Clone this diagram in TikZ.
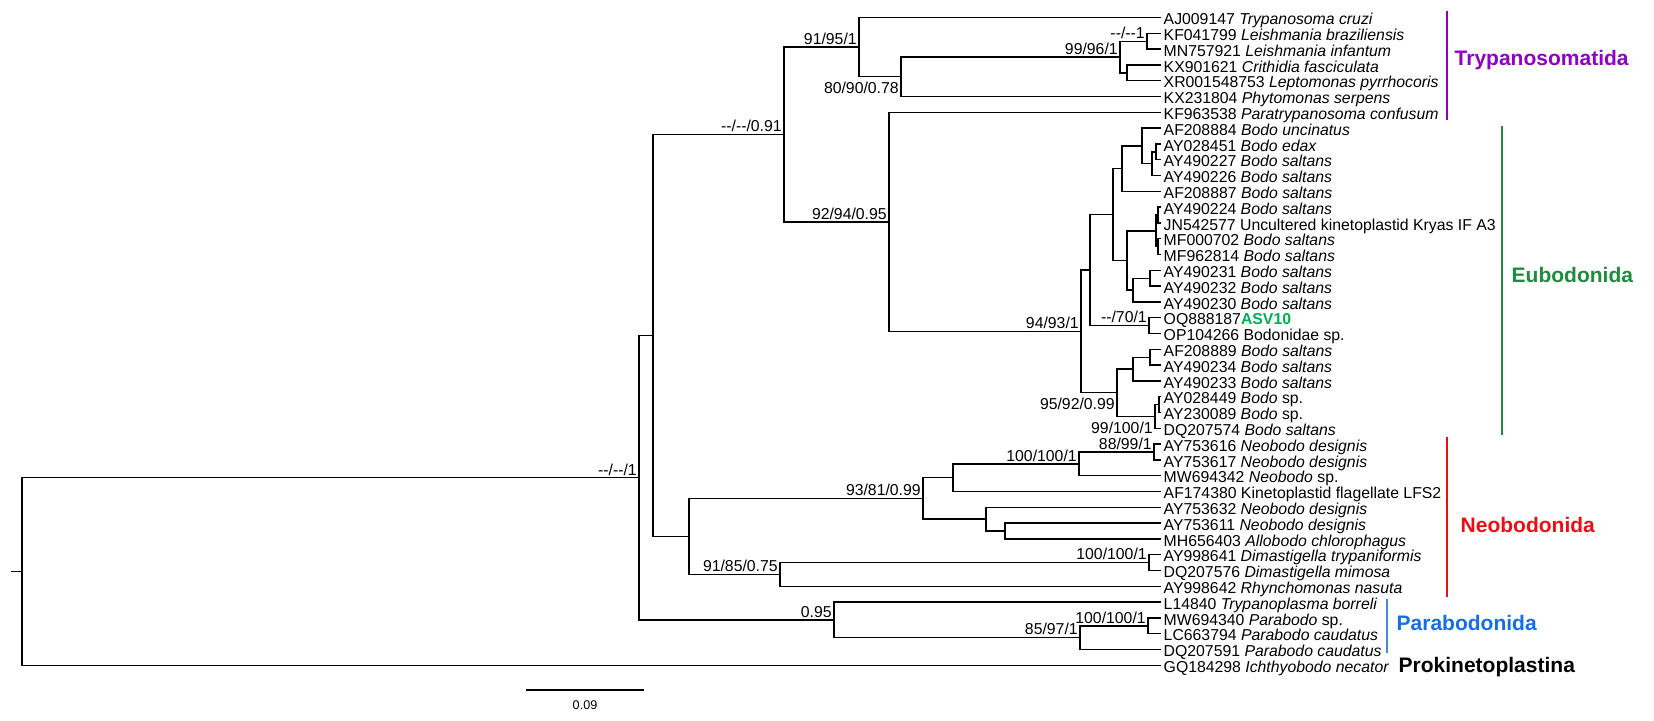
\documentclass[tikz,border=0pt]{standalone}
\usepackage{fontspec}
\setmainfont{Liberation Sans}
\definecolor{trypurple}{RGB}{145,0,200}
\definecolor{eubgreen}{RGB}{30,140,60}
\definecolor{asvgreen}{RGB}{0,175,80}
\definecolor{neored}{RGB}{235,15,20}
\definecolor{parablue}{RGB}{20,110,230}
\definecolor{parabar}{RGB}{70,140,205}
\begin{document}
\begin{tikzpicture}[x=0.5pt, y=-0.5pt, line width=0.7pt,
    leaf/.style={anchor=west, inner xsep=1pt, inner ysep=0pt, text height=0.72em, text depth=0pt, font=\fontsize{7.9}{9.5}\selectfont},
    bootup/.style={anchor=south east, inner xsep=0.8pt, inner ysep=1pt, text depth=0pt, font=\fontsize{7.9}{9.5}\selectfont},
    bootdown/.style={bootup, anchor=north east, text height=0.72em},
    clade/.style={anchor=west, inner sep=0pt, font=\fontsize{10.5}{12}\selectfont\bfseries},
    cladebar/.style={line width=1.1pt}]
\useasboundingbox (0,0) rectangle (1654,720);

% leaves, one row each
\foreach \acc/\sp [count=\i] in {
    AJ009147/~\textit{Trypanosoma cruzi}, KF041799/~\textit{Leishmania braziliensis},
    MN757921/~\textit{Leishmania infantum}, KX901621/~\textit{Crithidia fasciculata},
    XR001548753/~\textit{Leptomonas pyrrhocoris}, KX231804/~\textit{Phytomonas serpens},
    KF963538/~\textit{Paratrypanosoma confusum}, AF208884/~\textit{Bodo uncinatus},
    AY028451/~\textit{Bodo edax}, AY490227/~\textit{Bodo saltans},
    AY490226/~\textit{Bodo saltans}, AF208887/~\textit{Bodo saltans},
    AY490224/~\textit{Bodo saltans}, JN542577/~Uncultered kinetoplastid Kryas IF A3,
    MF000702/~\textit{Bodo saltans}, MF962814/~\textit{Bodo saltans},
    AY490231/~\textit{Bodo saltans}, AY490232/~\textit{Bodo saltans},
    AY490230/~\textit{Bodo saltans}, OQ888187/{\color{asvgreen}\bfseries ASV10},
    OP104266/~Bodonidae sp., AF208889/~\textit{Bodo saltans},
    AY490234/~\textit{Bodo saltans}, AY490233/~\textit{Bodo saltans},
    AY028449/~\textit{Bodo} sp., AY230089/~\textit{Bodo} sp.,
    DQ207574/~\textit{Bodo saltans}, AY753616/~\textit{Neobodo designis},
    AY753617/~\textit{Neobodo designis}, MW694342/~\textit{Neobodo} sp.,
    AF174380/~Kinetoplastid flagellate LFS2, AY753632/~\textit{Neobodo designis},
    AY753611/~\textit{Neobodo designis}, MH656403/~\textit{Allobodo chlorophagus},
    AY998641/~\textit{Dimastigella trypaniformis}, DQ207576/~\textit{Dimastigella mimosa},
    AY998642/~\textit{Rhynchomonas nasuta}, L14840/~\textit{Trypanoplasma borreli},
    MW694340/~\textit{Parabodo} sp., LC663794/~\textit{Parabodo caudatus},
    DQ207591/~\textit{Parabodo caudatus}, GQ184298/~\textit{Ichthyobodo necator}}
    \node[leaf] (\acc) at (1161,{17.5+15.8*(\i-1)}) {\acc\sp};

% internal nodes
\foreach \n/\x/\y in {R/22/571.5, A/639/477.7, B/653/335.45, C/784/134.5,
    T/859/47.1, T2/901/76.75, T3/1120/57.0, T4/1147/41.2, T5/1127/72.8,
    E/889/221.85, Eu/1081/331.4, E1/1090/270.05, E1a/1113/214.5, E1b/1122/168.6,
    E1d/1142/145.9, E1e/1152/163.65, E1f/1156/151.8, E1c/1127/260.4, E1g/1156/230.8,
    E1i/1158/215.0, E1j/1158/246.6, E1h/1133/290.05, E1k/1150/278.2, E1l/1149/325.6,
    E2/1117/392.75, E2a/1133/369.05, E2c/1150/357.2, E2b/1155/416.45, E2d/1159/404.6,
    Neo/689/536.4, N1/923/498.4, N1a/953/477.7, N1c/1079/463.85, N1d/1154/452.0,
    N1b/986/519.15, N1e/1005/531.0, N2/780/574.45, N2a/1149/562.6,
    Para/834/619.9, P1/1080/637.65, P2/1148/625.8}
    \coordinate (\n) at (\x,\y);
\coordinate (stub) at (11,571.5);

% branches
\draw (stub) -- (R);
\foreach \p/\c in {R/A, R/GQ184298, A/B, A/Para, B/C, B/Neo, C/T, C/E,
    T/AJ009147, T/T2, T2/T3, T2/KX231804, T3/T4, T3/T5,
    T4/KF041799, T4/MN757921, T5/KX901621, T5/XR001548753,
    E/KF963538, E/Eu, Eu/E1, Eu/E2, E1/E1a, E1/E1l, E1a/E1b, E1a/E1c,
    E1b/E1d, E1b/AF208887, E1d/AF208884, E1d/E1e, E1e/E1f, E1e/AY490226,
    E1f/AY028451, E1f/AY490227, E1c/E1g, E1c/E1h, E1g/E1i, E1g/E1j,
    E1i/AY490224, E1i/JN542577, E1j/MF000702, E1j/MF962814,
    E1h/E1k, E1h/AY490230, E1k/AY490231, E1k/AY490232,
    E1l/OQ888187, E1l/OP104266, E2/E2a, E2/E2b, E2a/E2c, E2a/AY490233,
    E2c/AF208889, E2c/AY490234, E2b/E2d, E2b/DQ207574, E2d/AY028449, E2d/AY230089,
    Neo/N1, Neo/N2, N1/N1a, N1/N1b, N1a/N1c, N1a/AF174380, N1c/N1d, N1c/MW694342,
    N1d/AY753616, N1d/AY753617, N1b/AY753632, N1b/N1e, N1e/AY753611, N1e/MH656403,
    N2/N2a, N2/AY998642, N2a/AY998641, N2a/DQ207576,
    Para/L14840, Para/P1, P1/P2, P1/DQ207591, P2/MW694340, P2/LC663794}
    \draw (\p) |- (\c);

% support values
\node[bootup] (bA) at (A) {-{}-/-{}-/1};
\node[bootup] (bC) at (C) {-{}-/-{}-/0.91};
\node[bootup] (bT) at (T) {91/95/1};
\node[bootdown] (bT2) at (T2) {80/90/0.78};
\node[bootup] (bT3) at (T3) {99/96/1};
\node[bootup] (bT4) at (T4) {-{}-/-{}-1};
\node[bootup] (bE) at (E) {92/94/0.95};
\node[bootup] (bEu) at (Eu) {94/93/1};
\node[bootup] (bE1l) at (E1l) {-{}-/70/1};
\node[bootdown] (bE2) at (E2) {95/92/0.99};
\node[bootdown] (bE2b) at (E2b) {99/100/1};
\node[bootup] (bN1) at (N1) {93/81/0.99};
\node[bootup] (bN1c) at (N1c) {100/100/1};
\node[bootup] (bN1d) at (N1d) {88/99/1};
\node[bootup] (bN2) at (N2) {91/85/0.75};
\node[bootup] (bN2a) at (N2a) {100/100/1};
\node[bootup] (bPara) at (Para) {0.95};
\node[bootup] (bP1) at (P1) {85/97/1};
\node[bootup] (bP2) at (P2) {100/100/1};

% clades
\draw[cladebar, trypurple] (1447,11) -- (1447,120);
\draw[cladebar, eubgreen] (1502,126) -- (1502,435);
\draw[cladebar, neored] (1447,437) -- (1447,597);
\draw[cladebar, parabar] (1387,599) -- (1387,653);
\node[clade, trypurple] (trypano) at (1454,60) {Trypanosomatida};
\node[clade, eubgreen] (eubodo) at (1511,275) {Eubodonida};
\node[clade, neored] (neobodo) at (1460,525) {Neobodonida};
\node[clade, parablue] (parabodo) at (1396,623) {Parabodonida};
\node[clade] (prokineto) at (1398,667) {Prokinetoplastina};

% scale bar
\coordinate (sbL) at (526,690);
\coordinate (sbR) at (644,690);
\draw (sbL) -- (sbR);
\node[font=\fontsize{6.3}{7}\selectfont, inner sep=0pt] (sblabel) at (585,705) {0.09};
\end{tikzpicture}
\end{document}
